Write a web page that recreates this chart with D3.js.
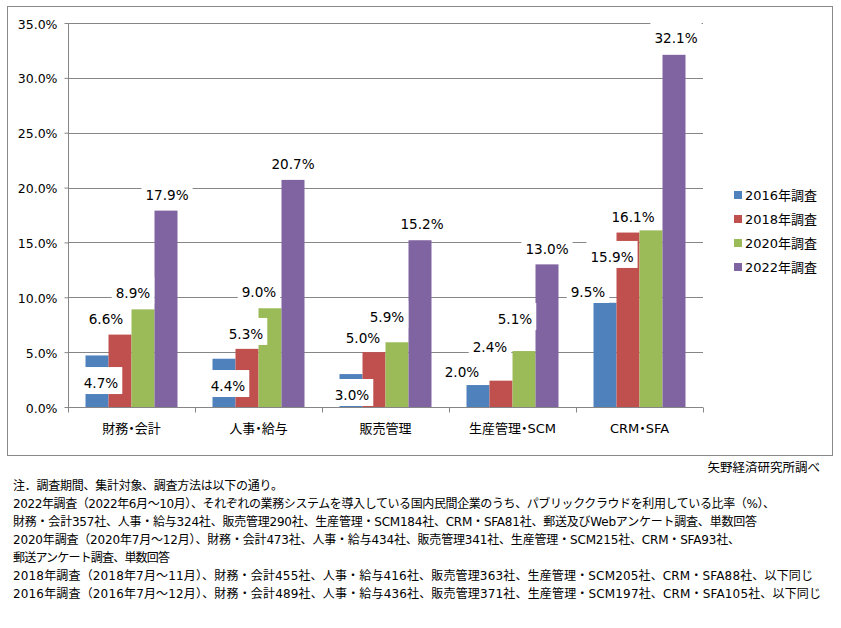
<!DOCTYPE html>
<html>
<head>
<meta charset="utf-8">
<script src="https://cdn.jsdelivr.net/npm/d3@7"></script>
<style>
  html, body { margin: 0; padding: 0; background: #fff; }
  svg text { font-family: "DejaVu Sans", "Noto Sans CJK JP", sans-serif; fill: #000; }
  .cjk { font-feature-settings: "palt" 1; }
</style>
</head>
<body>
<svg id="chart" width="841" height="628"></svg>
<script>
// ---- data ----
const categories = ["財務・会計", "人事・給与", "販売管理", "生産管理・SCM", "CRM・SFA"];
const seriesNames = ["2016年調査", "2018年調査", "2020年調査", "2022年調査"];
const values2016 = [4.7, 4.4, 3.0, 2.0, 9.5];
const values2018 = [6.6, 5.3, 5.0, 2.4, 15.9];
const values2020 = [8.9, 9.0, 5.9, 5.1, 16.1];
const values2022 = [17.9, 20.7, 15.2, 13.0, 32.1];
const yTicks = [0, 5, 10, 15, 20, 25, 30, 35];
const sourceText = "矢野経済研究所調べ";
const noteLines = [
  "注．調査期間、集計対象、調査方法は以下の通り。",
  "2022年調査（2022年6月～10月）、それぞれの業務システムを導入している国内民間企業のうち、パブリッククラウドを利用している比率（%）、",
  "財務・会計357社、人事・給与324社、販売管理290社、生産管理・SCM184社、CRM・SFA81社、郵送及びWebアンケート調査、単数回答",
  "2020年調査（2020年7月～12月）、財務・会計473社、人事・給与434社、販売管理341社、生産管理・SCM215社、CRM・SFA93社、",
  "郵送アンケート調査、単数回答",
  "2018年調査（2018年7月～11月）、財務・会計455社、人事・給与416社、販売管理363社、生産管理・SCM205社、CRM・SFA88社、以下同じ",
  "2016年調査（2016年7月～12月）、財務・会計489社、人事・給与436社、販売管理371社、生産管理・SCM197社、CRM・SFA105社、以下同じ"
];

// ---- layout / style (not data) ----
const colors = ["#4F81BD", "#C0504D", "#9BBB59", "#8064A2"];
// manual data-label nudges [dx, dy] relative to bar center / bar top, per series then category
const labelNudge = [
  [[4, 27.6], [4, 27.3], [1, 20.9], [-16, -13.1], [-17, -10.8]],
  [[-14, -15.6], [-1, -14.9], [-11, -14.1], [-11, -33.7], [-16, 24.4]],
  [[-10, -16.4], [-11, -16.3], [-10, -25.3], [-9, -32], [-18, -13.4]],
  [[1, -15.6], [0, -15.9], [2, -16.2], [0, -15.4], [2, -16.8]]
];
// rendered widths of the note lines (px), matching the original layout
const noteWidths = [270, 762, 744, 727, 157, 800, 808];

const seriesValues = [values2016, values2018, values2020, values2022];
const rows = categories.map((c, ci) => ({
  cat: c,
  vals: seriesValues.map((s, si) => ({ si, ci, v: s[ci] }))
}));

const svg = d3.select("#chart");
const gridColor = "#868686";

// chart border
svg.append("rect")
  .attr("x", 7.5).attr("y", 6.5).attr("width", 825).attr("height", 449)
  .attr("fill", "#fff").attr("stroke", "#898989").attr("stroke-width", 1);

const plot = { left: 68, right: 703, top: 23, bottom: 407 };
const x0 = d3.scaleBand().domain(categories).range([plot.left, plot.right]).paddingInner(0).paddingOuter(0);
const x1 = d3.scaleBand().domain(d3.range(seriesNames.length))
  .range([17.5, x0.bandwidth() - 17.5]).paddingInner(0).paddingOuter(0);
const y = d3.scaleLinear().domain([0, 35]).range([plot.bottom, plot.top]);

// gridlines
svg.append("g").selectAll("line").data(yTicks.filter(t => t > 0)).join("line")
  .attr("x1", plot.left).attr("x2", plot.right)
  .attr("y1", d => Math.round(y(d)) + 0.5).attr("y2", d => Math.round(y(d)) + 0.5)
  .attr("stroke", gridColor).attr("stroke-width", 1);

// y axis
const yAxis = d3.axisLeft(y).tickValues(yTicks).tickSize(4).tickPadding(7)
  .tickFormat(d => d.toFixed(1) + "%");
const gy = svg.append("g").attr("transform", `translate(${plot.left + 0.5},0.5)`).call(yAxis);
gy.select(".domain").attr("stroke", gridColor).attr("d", `M0,${plot.top - 0.5}V${plot.bottom - 0.5}`);
gy.selectAll(".tick line").attr("stroke", gridColor).attr("transform", "translate(0,-0.5)");
gy.selectAll(".tick text").attr("font-size", 12.5).attr("font-family", null).attr("dy", "0.36em");

// bars
const groups = svg.append("g").selectAll("g").data(rows).join("g")
  .attr("transform", d => `translate(${x0(d.cat)},0)`);
groups.selectAll("rect").data(d => d.vals).join("rect")
  .attr("x", d => x1(d.si))
  .attr("width", x1.bandwidth())
  .attr("y", d => y(d.v))
  .attr("height", d => y(0) - y(d.v))
  .attr("fill", d => colors[d.si]);

// x axis
const xAxis = d3.axisBottom(x0).tickSize(0).tickPadding(16);
const gx = svg.append("g").attr("transform", `translate(0,${plot.bottom + 0.5})`).call(xAxis);
gx.select(".domain").attr("stroke", gridColor).attr("d", `M${plot.left},0H${plot.right}`);
gx.selectAll(".tick text").attr("font-size", 13).attr("font-family", null).attr("class", "cjk");
// category separator ticks
const bounds = categories.map(c => x0(c)).concat([plot.right]);
gx.append("g").selectAll("line").data(bounds).join("line")
  .attr("x1", d => Math.round(d) + 0.5).attr("x2", d => Math.round(d) + 0.5)
  .attr("y1", 0).attr("y2", 5).attr("stroke", gridColor);

// data labels with white boxes
const allVals = rows.flatMap(r => r.vals.map(v => ({ ...v, cat: r.cat })));
const lblG = svg.append("g");
allVals.forEach(d => {
  const nud = labelNudge[d.si][d.ci];
  const cx = x0(d.cat) + x1(d.si) + x1.bandwidth() / 2 + nud[0];
  const cy = y(d.v) + nud[1];
  const g = lblG.append("g");
  const t = g.append("text")
    .attr("x", cx).attr("y", cy + 5)
    .attr("text-anchor", "middle").attr("font-size", 13.6)
    .text(d.v.toFixed(1) + "%");
  const w = t.node().getComputedTextLength();
  g.insert("rect", "text")
    .attr("x", cx - w / 2 - 4).attr("y", cy - 16)
    .attr("width", w + 8).attr("height", 27)
    .attr("fill", "#fff");
});

// legend
const leg = svg.append("g").selectAll("g").data(seriesNames).join("g")
  .attr("transform", (d, i) => `translate(734,${195 + i * 24})`);
leg.append("rect").attr("x", 0).attr("y", -4).attr("width", 8).attr("height", 8)
  .attr("fill", (d, i) => colors[i]);
leg.append("text").attr("x", 11).attr("y", 4.7).attr("font-size", 13).text(d => d);

// source
svg.append("text").attr("x", 820).attr("y", 472).attr("text-anchor", "end")
  .attr("font-size", 12.5).text(sourceText);

// notes
svg.append("g").selectAll("text").data(noteLines).join("text")
  .attr("x", 13).attr("y", (d, i) => 490 + i * 18)
  .attr("font-size", 12)
  .attr("textLength", (d, i) => noteWidths[i])
  .attr("lengthAdjust", "spacing")
  .text(d => d);
</script>
</body>
</html>
